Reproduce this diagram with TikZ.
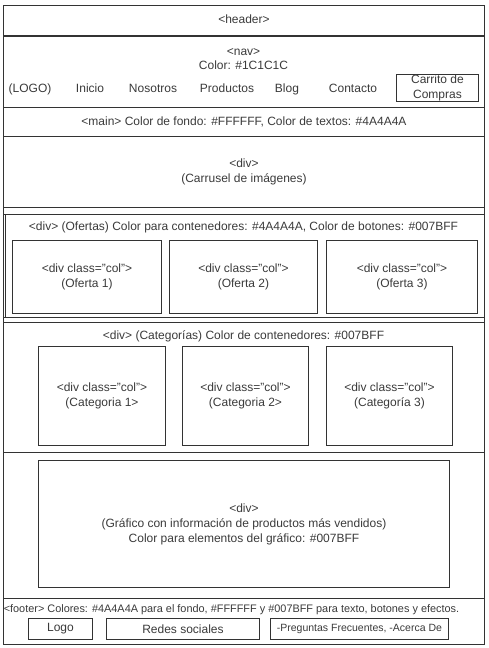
\documentclass[tikz,border=0pt]{standalone}
\usepackage{fontspec}
\setmainfont{Liberation Sans}
\usetikzlibrary{positioning}
\definecolor{linegray}{HTML}{333333}
\definecolor{textgray}{HTML}{3A3A3A}
\tikzset{
    section/.style={
           rectangle,
           draw=linegray, line width=0.9pt,
           anchor=north west,
           inner sep=0pt,
           minimum width=481pt
           },
    block/.style={
           rectangle,
           draw=linegray, line width=0.9pt,
           anchor=north west,
           inner sep=0pt,
           align=center,
           text=textgray,
           font=\fontsize{12}{15}\selectfont
           },
    label/.style={
           text=textgray,
           inner sep=0pt,
           align=center,
           font=\fontsize{12}{15}\selectfont
           },
    menu/.style={
           label,
           text height=1.5ex,
           text depth=.3ex
           },
    small/.style={
           label,
           font=\fontsize{10.9}{13}\selectfont
           },
}

\begin{document}
\begin{tikzpicture}[x=1pt,y=-1pt]
\useasboundingbox (0,0) rectangle (489,648);

% sections of the page
\node[section, minimum height=639pt] (PAGE) at (3,5) {};
\node[section, minimum height=30pt] (HEADER) at (3,5) {};
\node[section, minimum height=72pt] (NAV) at (3,35) {};
\node[section, minimum height=29pt] (MAIN) at (3,107) {};
\node[section, minimum height=71pt] (CAROUSEL) at (3,136) {};
\node[section, minimum height=7pt] (GAPA) at (3,207) {};
\node[section, minimum width=479.5pt, minimum height=103pt] (OFERTAS) at (4.5,214) {};
\node[section, minimum height=5pt] (GAPB) at (3,317) {};
\node[section, minimum height=130pt] (CATEGORIAS) at (3,322) {};
\node[section, minimum height=146pt] (GRAFICO) at (3,452) {};
\node[section, minimum height=46pt] (FOOTER) at (3,598) {};
\draw[linegray, line width=1.8pt] (HEADER.south west) -- (HEADER.south east);

% header and nav
\node[menu] (HEADERTXT) at (HEADER.center) {<header>};
\node[label, font=\fontsize{12}{14}\selectfont] (NAVTXT) at (243.5,59) {<nav>\\Color: \#1C1C1C};
\node[menu] (LOGO) at (30,89) {(LOGO)};
\node[menu] (INICIO) at (90,89) {Inicio};
\node[menu] (NOSOTROS) at (153,89) {Nosotros};
\node[menu] (PRODUCTOS) at (227,89) {Productos};
\node[menu] (BLOG) at (287,89) {Blog};
\node[menu] (CONTACTO) at (353,89) {Contacto};
\node[block, minimum width=82pt, minimum height=27pt] (CARRITO) at (396,74) {Carrito de\\Compras};

% main
\node[menu] (MAINTXT) at (MAIN.center) {<main> Color de fondo: \#FFFFFF, Color de textos: \#4A4A4A};
\node[label] (CAROUSELTXT) at (CAROUSEL.center) {<div>\\(Carrusel de imágenes)};

% ofertas
\node[menu] (OFERTASTXT) at (243.5,227) {<div> (Ofertas) Color para contenedores: \#4A4A4A, Color de botones: \#007BFF};
\node[block, minimum width=149pt, minimum height=73pt] (OFERTA1) at (12,240) {<div class="col">\\(Oferta 1)};
\node[block, minimum width=148pt, minimum height=73pt] (OFERTA2) at (169,240) {<div class="col">\\(Oferta 2)};
\node[block, minimum width=151pt, minimum height=73pt] (OFERTA3) at (326,240) {<div class="col">\\(Oferta 3)};

% categorias
\node[menu] (CATEGORIASTXT) at (243.5,336) {<div> (Categorías) Color de contenedores: \#007BFF};
\node[block, minimum width=127pt, minimum height=99pt] (CAT1) at (38,346) {<div class="col">\\(Categoria 1>};
\node[block, minimum width=126pt, minimum height=99pt] (CAT2) at (182,346) {<div class="col">\\(Categoria 2>};
\node[block, minimum width=126pt, minimum height=99pt] (CAT3) at (326,346) {<div class="col">\\(Categoría 3)};

% grafico
\node[block, minimum width=411pt, minimum height=127pt] (CHART) at (38,460) {<div>\\(Gráfico con información de productos más vendidos)\\Color para elementos del gráfico: \#007BFF};

% footer
\node[small, text height=1.5ex, text depth=.3ex] (FOOTERTXT) at (231.5,609) {<footer> Colores: \#4A4A4A para el fondo, \#FFFFFF y \#007BFF para texto, botones y efectos.};
\node[block, minimum width=64pt, minimum height=21pt] (FLOGO) at (28,618) {Logo};
\node[block, minimum width=153pt, minimum height=21pt] (REDES) at (106,618) {Redes sociales};
\node[block, minimum width=178pt, minimum height=21pt, font=\fontsize{10.5}{13}\selectfont] (FAQ) at (270,618) {-Preguntas Frecuentes, -Acerca De};

\end{tikzpicture}
\end{document}
